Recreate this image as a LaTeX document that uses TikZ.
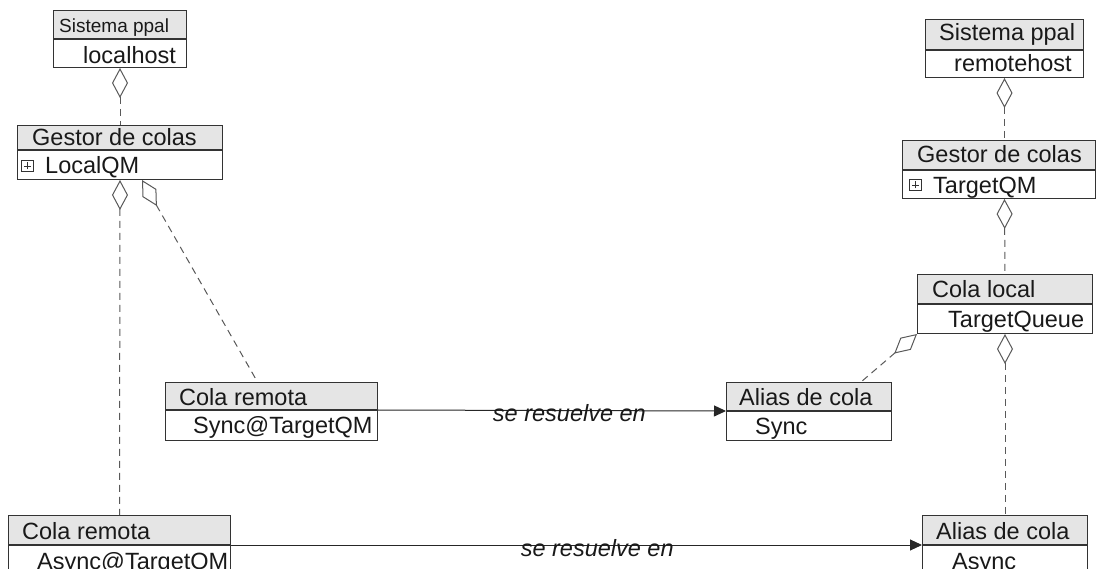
\documentclass[tikz,border=0pt]{standalone}
\usepackage{fontspec}
\setmainfont{Liberation Sans}
\usetikzlibrary{arrows.meta,positioning}
\newcommand{\umlfont}{\fontsize{23.5pt}{28pt}\selectfont}
\newcommand{\umlsmall}{\fontsize{19pt}{22pt}\selectfont}

\begin{document}
\begin{tikzpicture}[x=1pt,y=-1pt]
\tikzset{
  headbox/.style={draw=black!80,fill=black!10,line width=1pt,anchor=north west,inner sep=0pt},
  bodybox/.style={draw=black!80,fill=white,line width=1pt,anchor=north west,inner sep=0pt},
  boxtext/.style={anchor=base west,inner sep=0pt,font=\umlfont,text=black!90},
  plusicon/.style={draw=black!80,line width=0.6pt,minimum size=11.5pt,inner sep=0pt,
    path picture={\draw[line width=0.6pt]
      ([xshift=-3.5pt]path picture bounding box.center) -- ([xshift=3.5pt]path picture bounding box.center)
      ([yshift=-3.5pt]path picture bounding box.center) -- ([yshift=3.5pt]path picture bounding box.center);}},
  aggr/.style={draw=black!65,line width=1pt,dash pattern=on 7pt off 5pt,
    {Diamond[open,fill=white,length=30pt,width=16pt]}-},
  resolves/.style={draw=black!85,line width=1pt,-{Triangle[length=12pt,width=11pt]}},
  reslabel/.style={anchor=base,yshift=-11pt,inner sep=0pt,font=\umlfont\itshape,text=black!90}
}
\clip (0,0) rectangle (1096,569);

% local side
\node[headbox,minimum width=133pt,minimum height=28pt] (n_hostL) at (53,10) {};
\node[bodybox,minimum width=133pt,minimum height=28pt] (n_hostL_b) at (n_hostL.south west) {};
\node[boxtext,font=\umlsmall] at ([xshift=6pt,yshift=6pt]n_hostL.south west) {Sistema ppal};
\node[boxtext] at ([xshift=30pt,yshift=4pt]n_hostL_b.south west) {localhost};

\node[headbox,minimum width=205pt,minimum height=24pt] (n_qmL) at (17,125) {};
\node[bodybox,minimum width=205pt,minimum height=29pt] (n_qmL_b) at (n_qmL.south west) {};
\node[boxtext] at ([xshift=15pt,yshift=4pt]n_qmL.south west) {Gestor de colas};
\node[plusicon] (n_qmL_ic) at ([xshift=10.5pt,yshift=14pt]n_qmL_b.south west) {};
\node[boxtext] at ([xshift=28pt,yshift=6pt]n_qmL_b.south west) {LocalQM};

\node[headbox,minimum width=212pt,minimum height=27pt] (n_remS) at (165,382) {};
\node[bodybox,minimum width=212pt,minimum height=30pt] (n_remS_b) at (n_remS.south west) {};
\node[boxtext] at ([xshift=14pt,yshift=4pt]n_remS.south west) {Cola remota};
\node[boxtext] at ([xshift=28pt,yshift=7pt]n_remS_b.south west) {Sync@TargetQM};

\node[headbox,minimum width=222pt,minimum height=29pt] (n_remA) at (8,515) {};
\node[bodybox,minimum width=222pt,minimum height=31pt] (n_remA_b) at (n_remA.south west) {};
\node[boxtext] at ([xshift=14pt,yshift=6pt]n_remA.south west) {Cola remota};
\node[boxtext] at ([xshift=29pt,yshift=8pt]n_remA_b.south west) {Async@TargetQM};

% remote side
\node[headbox,minimum width=158pt,minimum height=30pt] (n_hostR) at (925,19) {};
\node[bodybox,minimum width=158pt,minimum height=27pt] (n_hostR_b) at (n_hostR.south west) {};
\node[boxtext] at ([xshift=14pt,yshift=9pt]n_hostR.south west) {Sistema ppal};
\node[boxtext] at ([xshift=29pt,yshift=6pt]n_hostR_b.south west) {remotehost};

\node[headbox,minimum width=193pt,minimum height=29pt] (n_qmR) at (902,140) {};
\node[bodybox,minimum width=193pt,minimum height=28pt] (n_qmR_b) at (n_qmR.south west) {};
\node[boxtext] at ([xshift=15pt,yshift=7pt]n_qmR.south west) {Gestor de colas};
\node[plusicon] (n_qmR_ic) at ([xshift=13.5pt,yshift=14pt]n_qmR_b.south west) {};
\node[boxtext] at ([xshift=31pt,yshift=5pt]n_qmR_b.south west) {TargetQM};

\node[headbox,minimum width=175pt,minimum height=29pt] (n_localQ) at (917,274) {};
\node[bodybox,minimum width=175pt,minimum height=29pt] (n_localQ_b) at (n_localQ.south west) {};
\node[boxtext] at ([xshift=15pt,yshift=6pt]n_localQ.south west) {Cola local};
\node[boxtext] at ([xshift=31pt,yshift=6pt]n_localQ_b.south west) {TargetQueue};

\node[headbox,minimum width=165pt,minimum height=28pt] (n_aliasS) at (726,382) {};
\node[bodybox,minimum width=165pt,minimum height=29pt] (n_aliasS_b) at (n_aliasS.south west) {};
\node[boxtext] at ([xshift=13pt,yshift=5pt]n_aliasS.south west) {Alias de cola};
\node[boxtext] at ([xshift=29pt,yshift=6pt]n_aliasS_b.south west) {Sync};

\node[headbox,minimum width=165pt,minimum height=29pt] (n_aliasA) at (922,515) {};
\node[bodybox,minimum width=165pt,minimum height=31pt] (n_aliasA_b) at (n_aliasA.south west) {};
\node[boxtext] at ([xshift=14pt,yshift=6pt]n_aliasA.south west) {Alias de cola};
\node[boxtext] at ([xshift=30pt,yshift=8pt]n_aliasA_b.south west) {Async};

% aggregations
\draw[aggr] (n_hostL_b.south) -- (n_qmL.north);
\draw[aggr] (n_qmL_b.south) -- (n_remA.north);
\draw[aggr] ([xshift=22pt]n_qmL_b.south) -- ([xshift=-14pt]n_remS.north);
\draw[aggr] (n_hostR_b.south) -- (n_hostR_b.south |- n_qmR.north);
\draw[aggr] (n_hostR_b.south |- n_qmR_b.south) -- (n_localQ.north);
\draw[aggr] (n_localQ_b.south west) -- ([xshift=52pt]n_aliasS.north);
\draw[aggr] (n_localQ_b.south) -- (n_aliasA.north);

% resolutions
\draw[resolves] (n_remS.south east) -- node[reslabel,pos=0.55] {se resuelve en} (n_aliasS.south west);
\draw[resolves] (n_remA.south east) -- node[reslabel,pos=0.53] {se resuelve en} (n_aliasA.south west);
\end{tikzpicture}
\end{document}
